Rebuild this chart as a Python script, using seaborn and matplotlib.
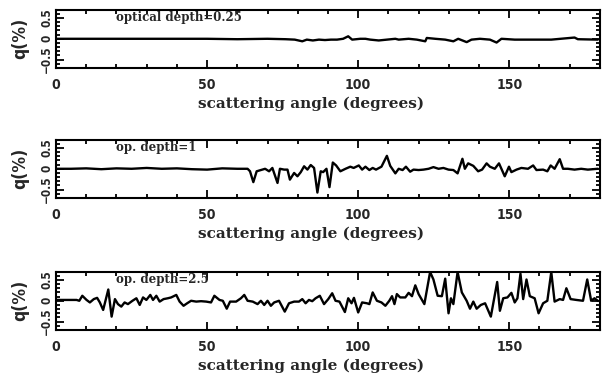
import numpy as np
import pandas as pd
import seaborn as sns
from matplotlib import pyplot as plt
from matplotlib import ticker

sns.set_theme(style="ticks")
plt.rcParams["font.family"] = ["DejaVu Sans"]

# optical depth = 0.25
deg_1 = [0, 10, 20, 30, 40, 50, 60, 70, 76, 79, 81.5, 83, 85, 87, 89, 91, 93, 95, 96.7,
         98, 100.7, 102.4, 104, 106.8, 109.5, 112.3, 113.4, 116.7, 119.4, 122.2, 122.7,
         125.5, 128.8, 131.5, 133.1, 135.9, 137.5, 140.3, 143.6, 145.8, 147.4, 151.8,
         157.3, 163.9, 171.6, 172.7, 179.3]
q_1 = [0, 0, 0, 0, 0, 0, -0.01, 0, -0.01, -0.02, -0.06, -0.02, -0.04, -0.02, -0.03, -0.02,
       -0.02, 0, 0.06, -0.02, 0, 0, -0.02, -0.04, -0.02, 0, -0.02, 0, -0.02, -0.06, 0.02,
       0, -0.02, -0.06, 0, -0.08, -0.02, 0, -0.02, -0.09, 0, -0.02, -0.02, -0.02, 0.03,
       -0.01, -0.02]

# op. depth = 1
deg_2 = [0, 5, 10, 15, 20, 25, 30, 35, 40, 45, 50, 55, 60, 63.4, 64.2, 65.3, 66.4, 67.8,
         69.2, 70.5, 71.6, 73.3, 74.1, 75.5, 76.6, 77.4, 78.8, 79.9, 81, 82.1, 83.2, 84.3,
         85.4, 86.5, 87.6, 88.4, 89.5, 90.5, 91.6, 92.7, 94.1, 95.8, 97.4, 98.5, 100.2,
         101.3, 102.4, 103.7, 104.8, 105.9, 107.7, 109.5, 110.6, 112.3, 113.4, 114.7,
         115.8, 117.2, 118.3, 120, 121.6, 123.3, 124.9, 126.6, 128.2, 129.9, 131.5, 132.9,
         134.5, 135.3, 136.4, 138.1, 139.7, 141, 142.5, 143.6, 145.2, 146.6, 147.4, 148.5,
         149.9, 150.7, 152.4, 154, 156.2, 157.9, 159, 161.2, 162.6, 163.7, 165, 166.7,
         167.8, 169.4, 171.6, 173.8, 176, 179.3]
q_2 = [0, 0, 0.01, -0.01, 0.01, 0, 0.02, 0, 0.01, -0.01, -0.02, 0.01, 0, 0, -0.06, -0.32,
       -0.06, -0.03, 0, -0.06, 0.02, -0.34, 0, -0.02, -0.02, -0.26, -0.1, -0.18, -0.08,
       0.06, -0.02, 0.09, 0.02, -0.57, -0.06, -0.08, 0, -0.44, 0.15, 0.08, -0.06, 0, 0.05,
       0.02, 0.08, -0.02, 0.05, -0.03, 0.02, -0.02, 0.05, 0.31, 0.07, -0.11, 0, -0.03,
       0.05, -0.07, -0.02, -0.03, -0.02, 0, 0.04, 0, 0.02, -0.02, -0.03, -0.11, 0.24, 0,
       0.13, 0.07, -0.06, -0.02, 0.13, 0.05, 0, 0.13, 0, -0.18, 0.05, -0.08, -0.02, 0.02,
       0, 0.08, -0.03, -0.02, -0.06, 0.08, 0, 0.23, 0, 0, -0.02, 0, -0.02, 0]

# op. depth = 2.5
deg_3 = [0, 6.8, 7.7, 8.7, 10.1, 11.2, 12.5, 13.6, 14.5, 15.6, 17.3, 18.4, 19.5, 20.5,
         21.6, 22.7, 23.8, 25.3, 26.6, 27.7, 28.8, 29.9, 31.2, 32.1, 33.2, 34.3, 35.6, 37,
         38.1, 39.8, 40.9, 42.2, 43.4, 44.7, 46.4, 48, 49.7, 51.3, 52.4, 54.1, 55.2, 56.5,
         57.6, 59.6, 61.2, 62.3, 63.4, 65.1, 66.7, 67.8, 68.9, 70, 71.1, 72.2, 73.8, 75.7,
         77.1, 78.8, 80.4, 81.5, 82.6, 83.7, 84.8, 85.9, 87.3, 88.7, 90.1, 91.4, 92.5,
         93.8, 95.6, 96.7, 97.8, 98.6, 100, 101.3, 102.9, 103.7, 104.8, 106.2, 107.7, 109,
         110.3, 111.2, 112, 112.8, 113.9, 115.6, 116.7, 117.8, 118.9, 120, 121.9, 123.8,
         124.9, 126.3, 127.7, 128.8, 129.9, 130.7, 131.5, 132.9, 134.3, 135.9, 137, 138.1,
         139.2, 140.6, 142, 143.9, 146, 146.9, 148, 149.4, 150.7, 151.8, 152.7, 153.7,
         154.6, 155.7, 156.8, 158.4, 159.7, 161.2, 162.6, 163.9, 165, 166.7, 167.8, 168.9,
         170.3, 172.2, 174.4, 175.8, 177.1, 178.2, 179.3]
q_3 = [0.02, 0.02, 0, 0.12, 0.02, -0.04, 0.04, 0.07, -0.04, -0.22, 0.27, -0.38, 0.04,
       -0.08, -0.14, -0.04, -0.08, 0, 0.06, -0.1, 0.08, 0.02, 0.14, 0.02, 0.12, -0.02, 0.04,
       0.06, 0.08, 0.14, -0.02, -0.12, -0.06, 0, -0.02, -0.01, -0.02, -0.04, 0.12, 0.02, 0,
       -0.19, -0.02, -0.02, 0.06, 0.14, 0, -0.02, -0.08, 0, -0.1, 0, -0.12, -0.04, 0,
       -0.26, -0.06, -0.02, -0.02, 0.04, -0.06, 0.02, -0.01, 0.06, 0.12, -0.08, 0.04, 0.18,
       0, -0.02, -0.27, 0.06, -0.06, 0.07, -0.28, -0.04, -0.06, -0.08, 0.2, 0, -0.04,
       -0.12, 0, 0.11, -0.08, 0.16, 0.08, 0.08, 0.19, 0.11, 0.37, 0.16, -0.08, 0.69, 0.51,
       0.12, 0.11, 0.53, -0.3, 0.06, -0.08, 0.69, 0.2, 0, -0.19, -0.02, -0.19, -0.1, -0.06,
       -0.38, 0.45, -0.24, 0.06, 0.08, 0.19, -0.04, 0.06, 0.65, 0.04, 0.51, 0.11, 0.06,
       -0.3, -0.06, 0, 0.69, -0.02, 0.04, 0.02, 0.3, 0.04, 0.02, 0, 0.51, 0, 0.06, 0]

labels = ["optical depth=0.25", "op. depth=1", "op. depth=2.5"]
panels = [(deg_1, q_1), (deg_2, q_2), (deg_3, q_3)]

fig = plt.figure(figsize=(6.05, 3.77), dpi=100)
bottoms = [0.8196, 0.4748, 0.1247]

for (deg, q), label, b in zip(panels, labels, bottoms):
    ax = fig.add_axes([0.0926, b, 0.899, 0.155])
    df = pd.DataFrame({"angle": deg, "q": q})
    sns.lineplot(data=df, x="angle", y="q", ax=ax, color="black", lw=1.7,
                 estimator=None, sort=False)
    ax.set_xlim(0, 180)
    ax.set_ylim(-0.7, 0.7)
    ax.xaxis.set_major_locator(ticker.MultipleLocator(50))
    ax.xaxis.set_minor_locator(ticker.MultipleLocator(10))
    ax.yaxis.set_major_locator(ticker.FixedLocator([-0.5, 0, 0.5]))
    ax.yaxis.set_major_formatter(ticker.FixedFormatter(["\u22120.5", "0", "0.5"]))
    ax.yaxis.set_minor_locator(ticker.MultipleLocator(0.1))
    ax.tick_params(which="both", direction="in", top=True, right=True,
                   width=1.3, color="black")
    ax.tick_params(which="major", length=6)
    ax.tick_params(which="minor", length=3)
    ax.tick_params(axis="x", labelsize=10, pad=7)
    ax.tick_params(axis="y", labelsize=8.5, pad=2)
    for t in ax.get_xticklabels():
        t.set_fontweight("bold")
        t.set_fontstretch("condensed")
    for t in ax.get_yticklabels():
        t.set_fontweight("bold")
        t.set_fontstretch("condensed")
        t.set_rotation(90)
        t.set_va("center")
    for s in ax.spines.values():
        s.set_linewidth(1.5)
        s.set_color("black")
    ax.set_xlabel("scattering angle (degrees)", family="DejaVu Serif",
                  fontweight="bold", fontsize=11)
    ax.xaxis.set_label_coords(0.469, -0.49)
    ax.set_ylabel("q(%)", fontweight="bold", fontsize=12.5, fontstretch="condensed")
    ax.yaxis.set_label_coords(-0.05, 0.5)
    ax.text(20, 0.5, label, family="DejaVu Serif", fontweight="bold",
            fontsize=8.5, va="center", ha="left")

fig.savefig("out.png", dpi=100)
